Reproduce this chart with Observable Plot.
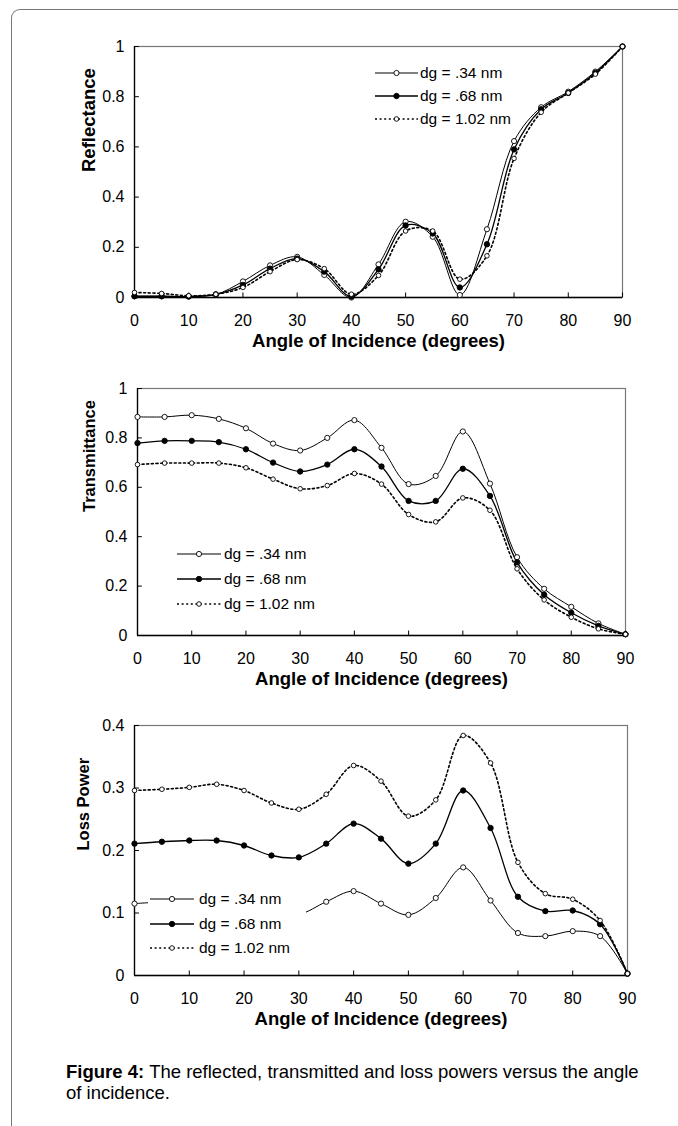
<!DOCTYPE html>
<html><head><meta charset="utf-8">
<script src="https://cdn.jsdelivr.net/npm/d3@7"></script>
<script src="https://cdn.jsdelivr.net/npm/@observablehq/plot@0.6"></script>
<style>
html,body{margin:0;padding:0;background:#fff;overflow:hidden;}
body{font-family:"Liberation Sans",Arial,sans-serif;color:#000;}
#root{position:relative;width:678px;height:1126px;overflow:hidden;}
#border{position:absolute;left:11px;top:9px;width:720px;height:1140px;border-top:1px solid #777;border-left:1px solid #777;border-top-left-radius:9px;}
.panel{position:absolute;left:0;}
.legend{position:absolute;background:#fff;font-size:15.5px;}
.legend .row{display:flex;align-items:center;white-space:nowrap;}
.legend svg{display:block;flex:none;}
#caption{position:absolute;left:66px;top:1061px;width:600px;font-size:18.5px;line-height:21px;}
#caption div{white-space:nowrap;height:21px;}
#caption b{margin-right:5px;}
</style></head>
<body><div id="root"><div id="border"></div></div>
<script>
// ---------- data ----------
const angles = [0,5,10,15,20,25,30,35,40,45,50,55,60,65,70,75,80,85,90];
const seriesNames = ["dg = .34 nm","dg = .68 nm","dg = 1.02 nm"];

const refl34  = [0.005,0.005,0.004,0.012,0.064,0.128,0.162,0.090,0.000,0.132,0.302,0.242,0.010,0.272,0.623,0.758,0.820,0.900,1.000];
const refl68  = [0.005,0.005,0.004,0.012,0.050,0.115,0.155,0.103,0.004,0.112,0.287,0.255,0.040,0.212,0.590,0.750,0.815,0.895,1.000];
const refl102 = [0.020,0.016,0.007,0.013,0.040,0.103,0.151,0.115,0.013,0.088,0.265,0.265,0.073,0.166,0.554,0.738,0.815,0.890,1.000];

const trans34  = [0.885,0.885,0.892,0.877,0.839,0.777,0.749,0.800,0.872,0.760,0.613,0.646,0.826,0.615,0.317,0.189,0.116,0.049,0.005];
const trans68  = [0.779,0.788,0.788,0.783,0.754,0.700,0.664,0.692,0.754,0.684,0.545,0.545,0.675,0.565,0.296,0.165,0.092,0.039,0.005];
const trans102 = [0.692,0.698,0.698,0.698,0.679,0.633,0.594,0.607,0.656,0.613,0.490,0.460,0.557,0.507,0.270,0.144,0.074,0.027,0.005];

const loss34  = [0.115,0.117,0.113,0.118,0.106,0.103,0.098,0.118,0.135,0.115,0.097,0.124,0.173,0.120,0.068,0.063,0.071,0.063,0.003];
const loss68  = [0.211,0.214,0.216,0.216,0.208,0.192,0.189,0.211,0.243,0.219,0.179,0.211,0.296,0.236,0.126,0.103,0.104,0.082,0.003];
const loss102 = [0.296,0.298,0.301,0.306,0.296,0.276,0.266,0.290,0.336,0.311,0.255,0.281,0.384,0.340,0.181,0.131,0.122,0.088,0.003];

const xTicks = [0,10,20,30,40,50,60,70,80,90];
const reflTicks = [0,0.2,0.4,0.6,0.8,1];
const transTicks = [0,0.2,0.4,0.6,0.8,1];
const lossTicks = [0,0.1,0.2,0.3,0.4];

const xTitle = "Angle of Incidence (degrees)";
const captionBold = "Figure 4:";
const captionLine1 = "The reflected, transmitted and loss powers versus the angle";
const captionLine2 = "of incidence.";

// ---------- styles ----------
const FONT = "'Liberation Sans', Arial, sans-serif";
const sty = [
  {strokeWidth: 1.0, dash: null,      fill: "#fff", r: 2.6},
  {strokeWidth: 1.3, dash: null,      fill: "#000", r: 2.7},
  {strokeWidth: 1.6, dash: "2,2.6",   fill: "#fff", r: 2.3}
];

const root = document.getElementById("root");

function makePanel(cfg) {
  const rows = [];
  cfg.values.forEach((arr, s) => arr.forEach((v, i) => rows.push({series: s, angle: angles[i], value: v})));
  const ymax = cfg.yTicks[cfg.yTicks.length - 1];
  const marks = [
    Plot.frame({stroke: "#777", strokeWidth: 1.2}),
    Plot.ruleY([0], {stroke: "#000", strokeWidth: 1.3}),
    Plot.ruleX([0], {stroke: "#000", strokeWidth: 1.3}),
    Plot.ruleX(xTicks, {x: d => d, y1: 0, y2: ymax * 0.018, stroke: "#000"}),
    Plot.ruleY(cfg.yTicks, {y: d => d, x1: 0, x2: 0.9, stroke: "#000"}),
    Plot.axisX(xTicks, {tickSize: 0, tickPadding: 17, fontSize: 16, label: null, tickFormat: d => String(d)}),
    Plot.axisY(cfg.yTicks, {tickSize: 0, tickPadding: 10, fontSize: 16, label: null, tickFormat: d => String(d)}),
    Plot.text([xTitle], {text: d => d, frameAnchor: "bottom", dy: 49, fontSize: 18.5, fontWeight: "bold"}),
    Plot.text([cfg.yLabel], {text: d => d, frameAnchor: "left", dx: cfg.yLabelDx, rotate: -90, fontSize: cfg.yLabelSize, fontWeight: "bold"})
  ];
  for (let s = 0; s < 3; s++) {
    const d = rows.filter(r => r.series === s);
    marks.push(Plot.line(d, {x: "angle", y: "value", curve: "catmull-rom", stroke: "#000",
      strokeWidth: sty[s].strokeWidth, strokeDasharray: sty[s].dash}));
  }
  for (let s = 0; s < 3; s++) {
    const d = rows.filter(r => r.series === s);
    marks.push(Plot.dot(d, {x: "angle", y: "value", r: sty[s].r, fill: sty[s].fill, stroke: "#000", strokeWidth: 0.9}));
  }
  const svg = Plot.plot({
    width: 678, height: cfg.height,
    marginTop: cfg.mt, marginBottom: cfg.mb, marginLeft: cfg.ml, marginRight: cfg.mr,
    x: {domain: [0, 90], axis: null, label: null},
    y: {domain: [0, ymax], axis: null, label: null},
    style: {fontFamily: FONT, background: "transparent", overflow: "visible", color: "#000"},
    marks
  });
  const wrap = document.createElement("div");
  wrap.className = "panel";
  wrap.style.top = cfg.top + "px";
  wrap.appendChild(svg);
  root.appendChild(wrap);

  // legend
  const lg = document.createElement("div");
  lg.className = "legend";
  lg.style.left = cfg.legend.left + "px";
  lg.style.top = cfg.legend.top + "px";
  if (cfg.legend.width) lg.style.width = cfg.legend.width + "px";
  lg.style.padding = cfg.legend.pad || "0";
  const ns = "http://www.w3.org/2000/svg";
  seriesNames.forEach((name, s) => {
    const row = document.createElement("div");
    row.className = "row";
    row.style.height = cfg.legend.rowH + "px";
    const sv = document.createElementNS(ns, "svg");
    const W = cfg.legend.lineW;
    sv.setAttribute("width", W); sv.setAttribute("height", 10);
    const ln = document.createElementNS(ns, "line");
    ln.setAttribute("x1", 0); ln.setAttribute("x2", W); ln.setAttribute("y1", 5); ln.setAttribute("y2", 5);
    ln.setAttribute("stroke", "#000"); ln.setAttribute("stroke-width", sty[s].strokeWidth);
    if (sty[s].dash) ln.setAttribute("stroke-dasharray", sty[s].dash);
    const c = document.createElementNS(ns, "circle");
    c.setAttribute("cx", W / 2); c.setAttribute("cy", 5); c.setAttribute("r", sty[s].r);
    c.setAttribute("fill", sty[s].fill); c.setAttribute("stroke", "#000"); c.setAttribute("stroke-width", 0.9);
    sv.appendChild(ln); sv.appendChild(c);
    const t = document.createElement("span");
    t.textContent = name;
    t.style.marginLeft = cfg.legend.gap + "px";
    row.appendChild(sv); row.appendChild(t);
    lg.appendChild(row);
  });
  root.appendChild(lg);
}

makePanel({values: [refl34, refl68, refl102], yTicks: reflTicks, yLabel: "Reflectance",
  top: 30, height: 340, mt: 16, mb: 73, ml: 134, mr: 56, yLabelDx: -45, yLabelSize: 18.5,
  legend: {left: 375, top: 61, rowH: 23, lineW: 43, gap: 2}});

makePanel({values: [trans34, trans68, trans102], yTicks: transTicks, yLabel: "Transmittance",
  top: 370, height: 340, mt: 18, mb: 75, ml: 137, mr: 53, yLabelDx: -48, yLabelSize: 16.5,
  legend: {left: 177, top: 541, rowH: 25, lineW: 44, gap: 3}});

makePanel({values: [loss34, loss68, loss102], yTicks: lossTicks, yLabel: "Loss Power",
  top: 710, height: 345, mt: 15, mb: 80, ml: 134, mr: 51, yLabelDx: -51, yLabelSize: 16.5,
  legend: {left: 148, top: 887, width: 156, rowH: 24.5, lineW: 44, gap: 5, pad: "0 0 2px 2px"}});

const cap = document.createElement("div");
cap.id = "caption";
const l1 = document.createElement("div");
const b = document.createElement("b");
b.textContent = captionBold;
const s1 = document.createElement("span");
s1.textContent = captionLine1;
l1.appendChild(b); l1.appendChild(s1);
const l2 = document.createElement("div");
l2.textContent = captionLine2;
cap.appendChild(l1); cap.appendChild(l2);
root.appendChild(cap);
</script>
</body></html>
